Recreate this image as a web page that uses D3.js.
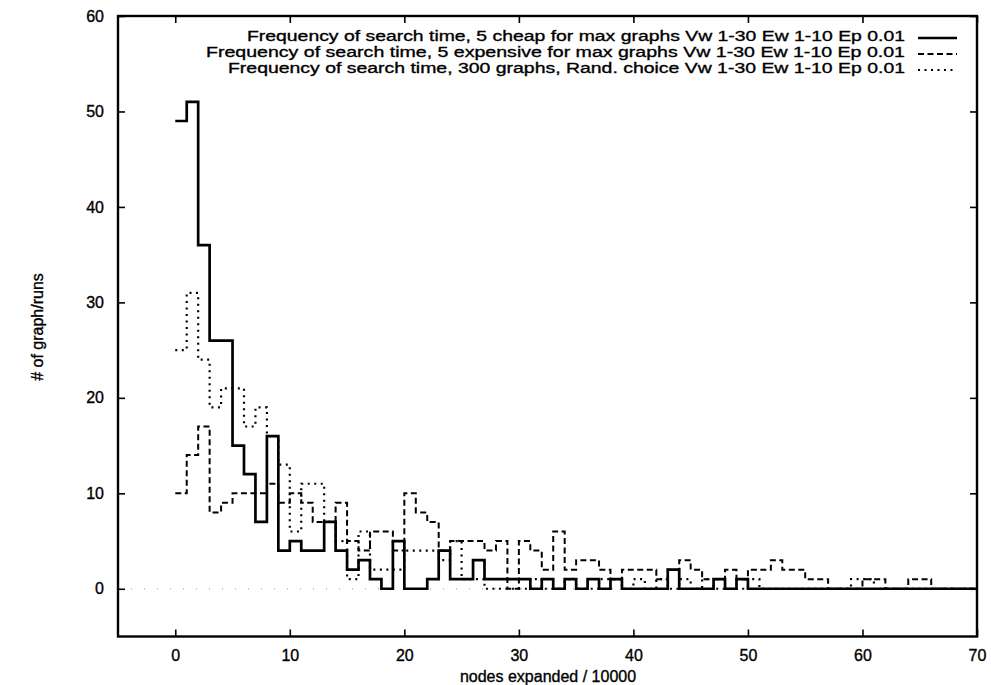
<!DOCTYPE html>
<html>
<head>
<meta charset="utf-8">
<script src="https://cdn.jsdelivr.net/npm/d3@7"></script>
<style>
  html, body { margin: 0; padding: 0; background: #fff; }
  svg { display: block; font-family: "Liberation Sans", Arial, Helvetica, sans-serif; }
</style>
</head>
<body>
<svg id="chart" width="991" height="685"></svg>
<script>
// ---- data (bin i covers [i, i+1]) ----
const cheapCounts = [49,51,36,26,26,15,12,7,16,4, 5,4,4,7,4,2,3,1,0,5,
                     0,0,1,4,1,1,3,1,1,1, 1,0,1,0,1,0,1,0,1,0,
                     0,0,0,2,0,0,0,1,0,1, 0,0,0,0,0,0,0,0,0,0,
                     0,0,0,0,0,0,0,0,0,0];
const expensiveCounts = [10,14,17,8,9,10,10,10,11,9, 10,9,7,7,9,5,4,6,6,4,
                         10,8,7,4,5,5,5,4,5,0, 5,4,2,6,2,3,3,2,1,2,
                         2,2,1,2,3,2,1,1,2,1, 2,2,3,2,2,1,1,0,0,0,
                         1,1,0,0,1,1,0,0,0,0];
const randomCounts = [25,31,24,19,21,21,17,19,16,13, 6,11,11,7,5,1,6,2,2,2,
                      4,4,4,3,5,1,1,0,0,0, 0,1,0,0,1,0,0,1,1,0,
                      1,0,1,0,1,0,1,0,0,0, 1,0,0,0,0,0,0,0,0,1,
                      1,0,0,0,0,0,0,0,0,0];
const seriesNames = [
  "Frequency of search time, 5 cheap for max graphs Vw 1-30 Ew 1-10 Ep 0.01",
  "Frequency of search time, 5 expensive for max graphs Vw 1-30 Ew 1-10 Ep 0.01",
  "Frequency of search time, 300 graphs, Rand. choice Vw 1-30 Ew 1-10 Ep 0.01"
];
const xTickValues = [0,10,20,30,40,50,60,70];
const yTickValues = [0,10,20,30,40,50,60];
const xTitle = "nodes expanded / 10000";
const yTitle = "# of graph/runs";

// ---- layout ----
const svg = d3.select("#chart");
const x = d3.scaleLinear().domain([-5, 70]).range([118, 977]);
const y = d3.scaleLinear().domain([-5, 60]).range([636.5, 16]);

const styles = [
  { width: 2.7, dash: null },
  { width: 2.0, dash: "6,3.5" },
  { width: 2.2, dash: "2,4.5" }
];
const allSeries = [cheapCounts, expensiveCounts, randomCounts];
const textStroke = 0.35;

// zero axis (faint dotted)
svg.append("line")
  .attr("x1", x(-5)).attr("x2", x(70))
  .attr("y1", y(0)).attr("y2", y(0))
  .attr("stroke", "#999").attr("stroke-width", 1)
  .attr("stroke-dasharray", "1,12");

// series as histogram steps
const line = d3.line()
  .x(d => x(d[0])).y(d => y(d[1]))
  .curve(d3.curveStepAfter);

allSeries.forEach((counts, k) => {
  const pts = counts.map((v, i) => [i, v]);
  pts.push([counts.length, counts[counts.length - 1]]);
  svg.append("path")
    .datum(pts)
    .attr("d", line)
    .attr("fill", "none")
    .attr("stroke", "#000")
    .attr("stroke-width", styles[k].width)
    .attr("stroke-dasharray", styles[k].dash)
    .attr("stroke-linejoin", "miter")
    .attr("stroke-linecap", "butt");
});

// axes with inward ticks
const gx = svg.append("g").attr("transform", `translate(0,${y(-5)})`)
  .call(d3.axisBottom(x).tickValues(xTickValues).tickSize(-7).tickPadding(13).tickFormat(d3.format("d")));
const gxTop = svg.append("g").attr("transform", `translate(0,${y(60)})`)
  .call(d3.axisTop(x).tickValues(xTickValues).tickSize(-7).tickFormat(""));
const gy = svg.append("g").attr("transform", `translate(${x(-5)},0)`)
  .call(d3.axisLeft(y).tickValues(yTickValues).tickSize(-7).tickPadding(14).tickFormat(d3.format("d")));
const gyRight = svg.append("g").attr("transform", `translate(${x(70)},0)`)
  .call(d3.axisRight(y).tickValues(yTickValues).tickSize(-7).tickFormat(""));

[gx, gxTop, gy, gyRight].forEach(g => {
  g.select(".domain").remove();
  g.selectAll(".tick line").attr("stroke", "#000").attr("stroke-width", 1.6);
  g.selectAll("text").attr("font-size", 16).attr("fill", "#000")
    .attr("stroke", "#000").attr("stroke-width", textStroke)
    .attr("font-family", "Liberation Sans, Arial, sans-serif");
});

// frame
svg.append("rect")
  .attr("x", x(-5)).attr("y", y(60))
  .attr("width", x(70) - x(-5)).attr("height", y(-5) - y(60))
  .attr("fill", "none").attr("stroke", "#000").attr("stroke-width", 2.4);

// axis titles
svg.append("text")
  .attr("x", 548).attr("y", 682)
  .attr("text-anchor", "middle").attr("font-size", 16).attr("fill", "#000")
  .attr("stroke", "#000").attr("stroke-width", textStroke)
  .text(xTitle);
svg.append("text")
  .attr("transform", "translate(43,327) rotate(-90)")
  .attr("text-anchor", "middle").attr("font-size", 16).attr("fill", "#000")
  .attr("stroke", "#000").attr("stroke-width", textStroke)
  .text(yTitle);

// legend
const legendRight = 905;
const legendBase = [41, 57, 73];
const legendStarts = [247, 206, 228];
seriesNames.forEach((name, k) => {
  svg.append("text")
    .attr("x", legendRight).attr("y", legendBase[k])
    .attr("text-anchor", "end").attr("font-size", 15.5).attr("fill", "#000")
    .attr("stroke", "#000").attr("stroke-width", textStroke)
    .attr("textLength", legendRight - legendStarts[k])
    .attr("lengthAdjust", "spacingAndGlyphs")
    .text(name);
  svg.append("line")
    .attr("x1", 918).attr("x2", 957)
    .attr("y1", legendBase[k] - 3).attr("y2", legendBase[k] - 3)
    .attr("stroke", "#000")
    .attr("stroke-width", styles[k].width)
    .attr("stroke-dasharray", styles[k].dash);
});
</script>
</body>
</html>
